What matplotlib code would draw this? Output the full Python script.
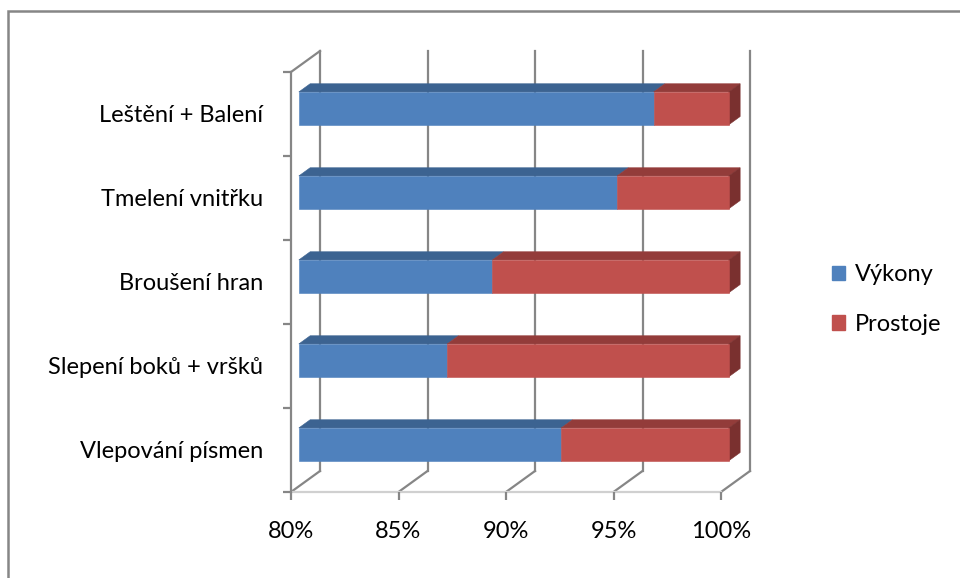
import matplotlib
matplotlib.use("Agg")
import matplotlib.pyplot as plt
from matplotlib.patches import Polygon, Patch, Rectangle

# data (share of time, %)
categories = ["Vlepování písmen", "Slepení boků + vršků", "Broušení hran",
              "Tmelení vnitřku", "Leštění + Balení"]
vykony = [92.2, 86.9, 89.0, 94.8, 96.5]
prostoje = [100 - v for v in vykony]
series_names = ["Výkony", "Prostoje"]
x_ticks = [80, 85, 90, 95, 100]
x_tick_labels = ["80%", "85%", "90%", "95%", "100%"]

# colours (front, top, side)
blue = ("#4F81BD", "#3C6391", "#345780")
red = ("#C0504D", "#933C3A", "#7A302F")
grid_col = "#868686"

plt.rcParams['font.family'] = ['Lato', 'DejaVu Sans']
fs = 17

W, H = 960, 578
fig = plt.figure(figsize=(W / 100, H / 100), dpi=100)
ax = fig.add_axes([291 / W, (H - 492) / H, 430 / W, 420 / H])
ax.set_xlim(80, 100)
ax.set_ylim(0, 5)
for s in ax.spines.values():
    s.set_visible(False)

# oblique depth offset of the back wall, in data units
DX = 29 / 21.5
DY = 21 / 84
d1, d2 = 0.27, 0.66      # bar front / back depth
bh = 0.39                # bar height

lw = 1.6
# back wall gridlines + floor diagonals
for v in x_ticks:
    ax.plot([v + DX, v + DX], [DY, 5 + DY], color=grid_col, lw=lw, zorder=1, clip_on=False)
    ax.plot([v, v + DX], [0, DY], color=grid_col, lw=lw, zorder=1, clip_on=False)
# floor front edge and left wall
ax.plot([80, 100], [0, 0], color="#D0D0D0", lw=lw, zorder=1, clip_on=False)
ax.plot([80, 80], [0, 5], color=grid_col, lw=lw, zorder=2, clip_on=False)
ax.plot([80, 80 + DX], [5, 5 + DY], color=grid_col, lw=lw, zorder=1, clip_on=False)


def box(x0, x1, yc, cols, side):
    yb, yt = yc - bh / 2, yc + bh / 2
    o1x, o1y, o2x, o2y = d1 * DX, d1 * DY, d2 * DX, d2 * DY
    top = [(x0 + o1x, yt + o1y), (x1 + o1x, yt + o1y), (x1 + o2x, yt + o2y), (x0 + o2x, yt + o2y)]
    front = [(x0 + o1x, yb + o1y), (x1 + o1x, yb + o1y), (x1 + o1x, yt + o1y), (x0 + o1x, yt + o1y)]
    ax.add_patch(Polygon(top, closed=True, fc=cols[1], ec=cols[1], lw=0.4, zorder=3, clip_on=False))
    if side:
        sd = [(x1 + o1x, yb + o1y), (x1 + o2x, yb + o2y), (x1 + o2x, yt + o2y), (x1 + o1x, yt + o1y)]
        ax.add_patch(Polygon(sd, closed=True, fc=cols[2], ec=cols[2], lw=0.4, zorder=3, clip_on=False))
    ax.add_patch(Polygon(front, closed=True, fc=cols[0], ec=cols[0], lw=0.4, zorder=4, clip_on=False))


for i, (v, p) in enumerate(zip(vykony, prostoje)):
    yc = i + 0.5
    box(80, v, yc, blue, False)
    box(v, v + p, yc, red, True)

# ticks and labels
ax.set_xticks(x_ticks)
ax.set_xticklabels(x_tick_labels, fontsize=fs)
ax.tick_params(axis="x", length=5.8, width=lw, color=grid_col, pad=15)
ax.set_yticks([i + 0.5 for i in range(len(categories))])
ax.set_yticklabels(categories, fontsize=fs)
ax.set_yticks(range(len(categories) + 1), minor=True)
ax.tick_params(axis="y", which="major", length=0, pad=20)
ax.tick_params(axis="y", which="minor", length=5.8, width=lw, color=grid_col)

# legend
handles = [Patch(color=blue[0]), Patch(color=red[0])]
fig.legend(handles, series_names, loc="upper left", bbox_to_anchor=(832 / W, 1 - 264 / H),
           frameon=False, fontsize=fs, handlelength=0.55, handleheight=0.55,
           handletextpad=0.4, labelspacing=1.22, borderpad=0, borderaxespad=0)

# outer chart frame (top and left edges visible)
fig.add_artist(Rectangle((8 / W, -0.2), 1.2, 1.2 - 11 / H, transform=fig.transFigure,
                         fill=False, ec=grid_col, lw=1.8))

fig.savefig("out.png", dpi=100)
